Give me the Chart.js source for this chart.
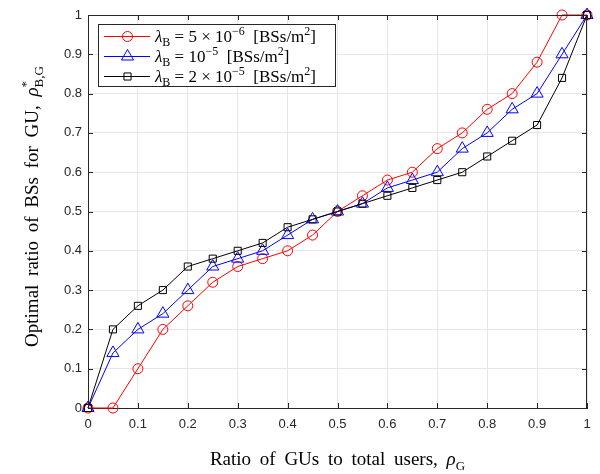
<!DOCTYPE html>
<html><head><meta charset="utf-8">
<script src="https://cdn.jsdelivr.net/npm/chart.js@4/dist/chart.umd.min.js"></script>
<style>html,body{margin:0;padding:0;background:#fff}#wrap{width:600px;height:474px;position:relative}</style>
</head><body><div id="wrap"><canvas id="c" width="600" height="474"></canvas></div>
<script>
const xValues = [0,0.05,0.1,0.15,0.2,0.25,0.3,0.35,0.4,0.45,0.5,0.55,0.6,0.65,0.7,0.75,0.8,0.85,0.9,0.95,1];
const seriesLow  = [0,0,0.10,0.20,0.26,0.32,0.36,0.38,0.40,0.44,0.50,0.54,0.58,0.60,0.66,0.70,0.76,0.80,0.88,1.00,1.00];
const seriesMid  = [0,0.14,0.20,0.24,0.30,0.36,0.38,0.40,0.44,0.48,0.50,0.52,0.56,0.58,0.60,0.66,0.70,0.76,0.80,0.90,1.00];
const seriesHigh = [0,0.20,0.26,0.30,0.36,0.38,0.40,0.42,0.46,0.48,0.50,0.52,0.54,0.56,0.58,0.60,0.64,0.68,0.72,0.84,1.00];
const xTicks = [0,0.1,0.2,0.3,0.4,0.5,0.6,0.7,0.8,0.9,1];
const yTicks = [0,0.1,0.2,0.3,0.4,0.5,0.6,0.7,0.8,0.9,1];
const legendLabels = [
  [{t:'λ',it:true},{t:'B',sub:true},{t:' = 5 × 10'},{t:'−6',sup:true},{t:'  [BSs/m'},{t:'2',sup:true},{t:']'}],
  [{t:'λ',it:true},{t:'B',sub:true},{t:' = 10'},{t:'−5',sup:true},{t:'  [BSs/m'},{t:'2',sup:true},{t:']'}],
  [{t:'λ',it:true},{t:'B',sub:true},{t:' = 2 × 10'},{t:'−5',sup:true},{t:'  [BSs/m'},{t:'2',sup:true},{t:']'}]
];
const xTitle = [{t:'Ratio of GUs to total users, '},{t:'ρ',it:true},{t:'G',sub:true}];
const yTitle = [{t:'Optimal ratio of BSs for GU, '},{t:'ρ',it:true},{stack:true,sup:'*',sub:'B,G'}];

const SERIF = '"Liberation Serif", "Times New Roman", serif';
const SANS = '"Liberation Sans", Arial, sans-serif';
const AX = '#262626';

function pts(ys){ return xValues.map((x,i)=>({x:x,y:ys[i]})); }

function fontStr(seg, size){
  return (seg.it?'italic ':'') + size + 'px ' + SERIF;
}
function segWidth(ctx, seg, size){
  if(seg.stack){
    ctx.font = Math.round(size*0.7)+'px '+SERIF;
    return Math.max(ctx.measureText(seg.sup).width, ctx.measureText(seg.sub).width);
  }
  const s = (seg.sub||seg.sup) ? Math.round(size*0.7) : size;
  ctx.font = fontStr(seg, s);
  return ctx.measureText(seg.t).width;
}
function richWidth(ctx, segs, size){
  return segs.reduce((a,s)=>a+segWidth(ctx,s,size),0);
}
function drawRich(ctx, segs, x, y, size, align, ws){
  ctx.wordSpacing = (ws||0)+'px';
  let w = richWidth(ctx, segs, size);
  let cx = align==='center' ? x - w/2 : x;
  ctx.textBaseline = 'alphabetic';
  ctx.textAlign = 'left';
  ctx.fillStyle = '#000';
  for(const seg of segs){
    const sw = segWidth(ctx, seg, size);
    if(seg.stack){
      const s = Math.round(size*0.7);
      ctx.font = s+'px '+SERIF;
      ctx.fillText(seg.sup, cx, y - size*0.42);
      ctx.fillText(seg.sub, cx, y + size*0.28);
    } else {
      const s = (seg.sub||seg.sup) ? Math.round(size*0.7) : size;
      ctx.font = fontStr(seg, s);
      let dy = seg.sub ? size*0.25 : (seg.sup ? -size*0.42 : 0);
      ctx.fillText(seg.t, cx, y + dy);
    }
    cx += sw;
  }
  ctx.wordSpacing = '0px';
}

const decorPlugin = {
  id:'decor',
  afterDraw(chart){
    const ctx = chart.ctx, a = chart.chartArea;
    const xs = chart.scales.x, ys = chart.scales.y;
    ctx.save();
    ctx.strokeStyle = AX; ctx.lineWidth = 1;
    ctx.beginPath();
    ctx.moveTo(a.left, a.top+0.5); ctx.lineTo(a.right, a.top+0.5);
    ctx.moveTo(a.right-0.5, a.top); ctx.lineTo(a.right-0.5, a.bottom);
    const L = 5;
    xTicks.forEach(v=>{
      const px = Math.round(xs.getPixelForValue(v))+0.5;
      ctx.moveTo(px, a.bottom); ctx.lineTo(px, a.bottom-L);
      ctx.moveTo(px, a.top); ctx.lineTo(px, a.top+L);
    });
    yTicks.forEach(v=>{
      const py = Math.round(ys.getPixelForValue(v))+0.5;
      ctx.moveTo(a.left, py); ctx.lineTo(a.left+L, py);
      ctx.moveTo(a.right, py); ctx.lineTo(a.right-L, py);
    });
    ctx.stroke();

    // legend
    const bx=98.5, by=24.5, bw=237, bh=62;
    ctx.fillStyle='#fff'; ctx.fillRect(bx,by,bw,bh);
    ctx.strokeStyle=AX; ctx.strokeRect(bx,by,bw,bh);
    const rows=[36,56,76];
    chart.data.datasets.forEach((ds,i)=>{
      const y=rows[i];
      ctx.strokeStyle=ds.borderColor; ctx.lineWidth=1;
      ctx.beginPath(); ctx.moveTo(104,y+0.5); ctx.lineTo(150,y+0.5); ctx.stroke();
      ctx.fillStyle='rgba(0,0,0,0)';
      Chart.helpers.drawPoint(ctx,{pointStyle:ds.pointStyle,radius:ds.pointRadius,borderWidth:1,rotation:0},127.5,y+0.5);
      drawRich(ctx, legendLabels[i], 155, y+6, 17, 'left', 5);
    });

    // axis titles
    drawRich(ctx, xTitle, (a.left+a.right)/2, 465, 19, 'center', 4);
    ctx.save();
    ctx.translate(38, (a.top+a.bottom)/2 - 5);
    ctx.rotate(-Math.PI/2);
    drawRich(ctx, yTitle, 0, 0, 19, 'center', 4);
    ctx.restore();
    ctx.restore();
  }
};

function ds(label, data, color, style, r){
  return {label, data:pts(data), borderColor:color, backgroundColor:'rgba(0,0,0,0)',
    borderWidth:1, pointStyle:style, pointRadius:r, pointBorderWidth:1,
    pointBackgroundColor:'rgba(0,0,0,0)', pointBorderColor:color, tension:0, clip:false, showLine:true};
}

new Chart(document.getElementById('c'), {
  type:'line',
  data:{datasets:[
    Object.assign(ds('λB = 5×10^-6', seriesLow, '#ff0000', 'circle', 5), {order:3}),
    Object.assign(ds('λB = 10^-5', seriesMid, '#0000ff', 'triangle', 7), {order:2}),
    Object.assign(ds('λB = 2×10^-5', seriesHigh, '#000000', 'rect', 5), {order:1})
  ]},
  options:{
    responsive:false, animation:false, devicePixelRatio:1,
    layout:{padding:{top:15,right:13,left:0,bottom:0}},
    plugins:{legend:{display:false}, tooltip:{enabled:false}},
    scales:{
      x:{type:'linear', min:0, max:1,
        afterBuildTicks(s){ s.ticks = xTicks.map(v=>({value:v})); },
        afterFit(s){ s.height = 66; },
        ticks:{font:{family:SANS,size:13}, color:AX, padding:9, maxRotation:0,
          callback:v=> (v===0?'0':(v===1?'1':v.toFixed(1)))},
        grid:{color:'#e6e6e6', drawTicks:false, lineWidth:1},
        border:{color:AX, width:1}
      },
      y:{type:'linear', min:0, max:1,
        afterBuildTicks(s){ s.ticks = yTicks.map(v=>({value:v})); },
        afterFit(s){ s.width = 88; },
        ticks:{font:{family:SANS,size:13}, color:AX, padding:6,
          callback:v=> (v===0?'0':(v===1?'1':v.toFixed(1)))},
        grid:{color:'#e6e6e6', drawTicks:false, lineWidth:1},
        border:{color:AX, width:1}
      }
    }
  },
  plugins:[decorPlugin]
});
</script></body></html>
